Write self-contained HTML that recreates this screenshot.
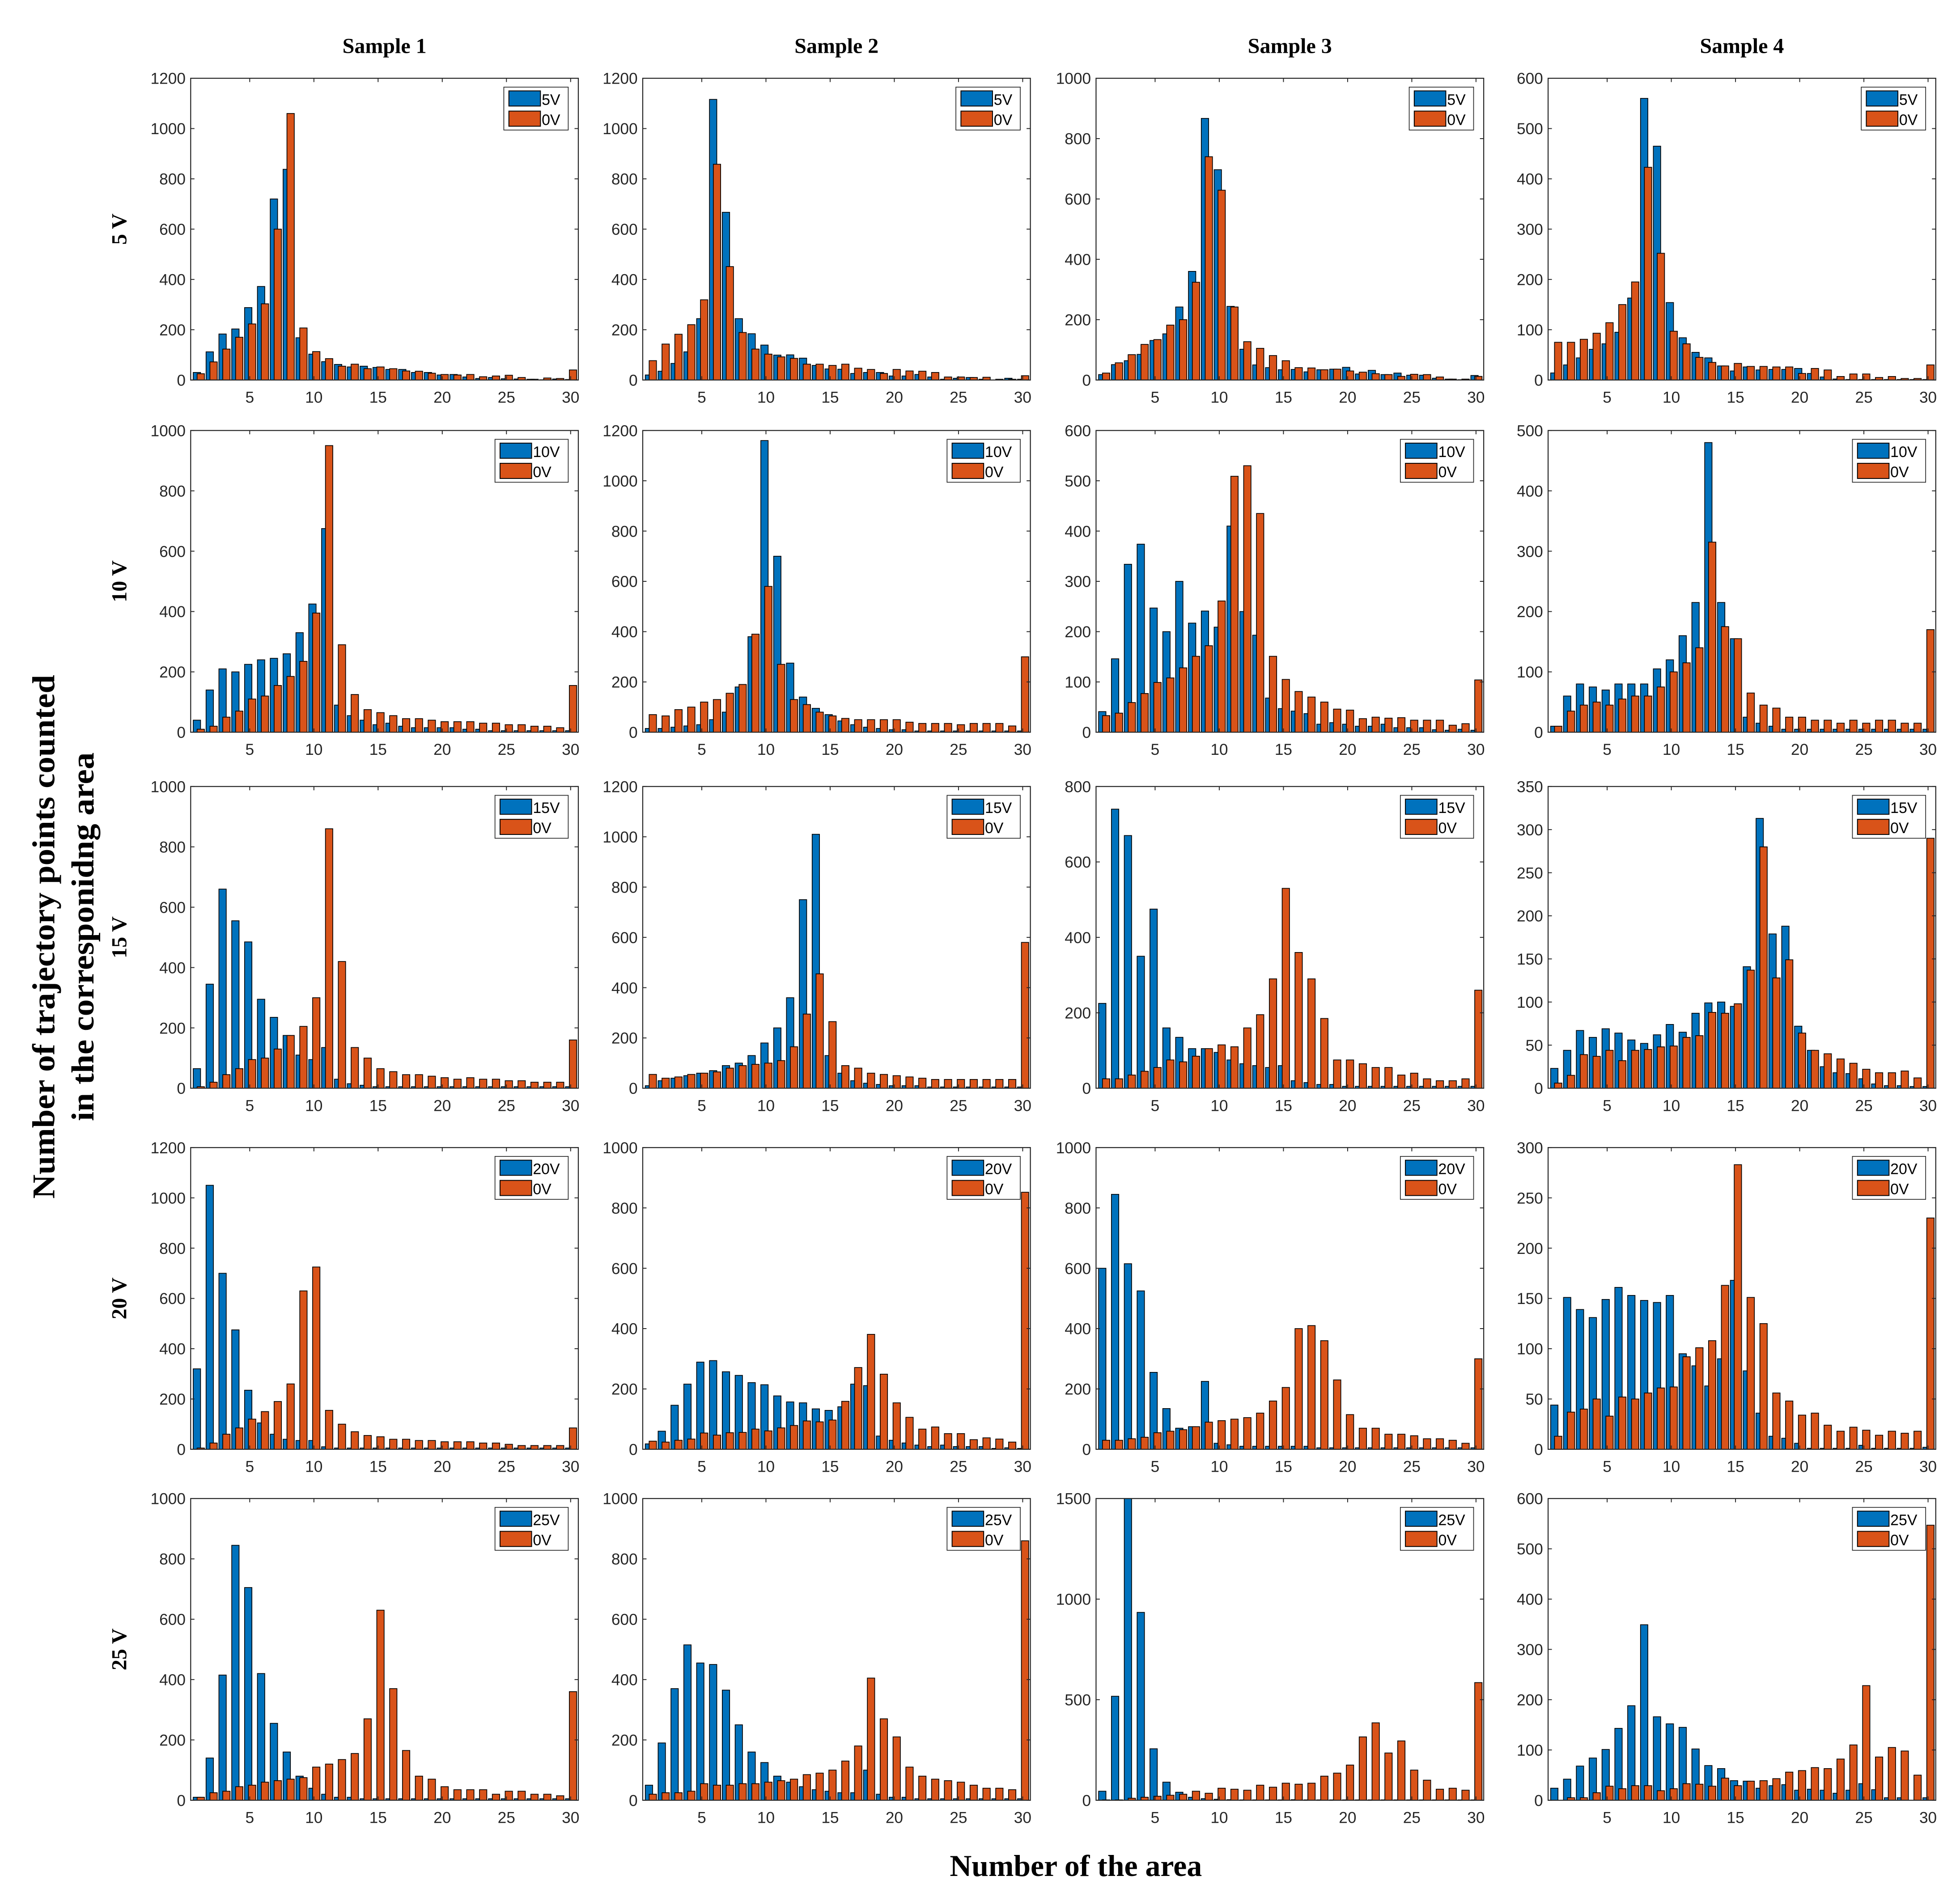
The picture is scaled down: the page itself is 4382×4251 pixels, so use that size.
<!DOCTYPE html>
<html><head><meta charset="utf-8"><style>
html,body{margin:0;padding:0;background:#fff;}
svg{display:block;}
</style></head><body>
<svg id="fig" xmlns="http://www.w3.org/2000/svg" width="4382" height="4251" viewBox="0 0 1552.2 1505.8">
<rect width="1552.2" height="1505.8" fill="#fff"/>
<g id="panels"></g>
<text x="852" y="1486" text-anchor="middle" font-family="Liberation Serif, serif" font-weight="bold" font-size="24">Number of the area</text>
<text transform="translate(43,742) rotate(-90)" text-anchor="middle" font-family="Liberation Serif, serif" font-weight="bold" font-size="25" textLength="415" lengthAdjust="spacingAndGlyphs">Number of trajectory points counted</text>
<text transform="translate(74,742) rotate(-90)" text-anchor="middle" font-family="Liberation Serif, serif" font-weight="bold" font-size="25" textLength="292" lengthAdjust="spacingAndGlyphs">in the corresponidng area</text>
</svg>
<script>
const sampleLabels = ["Sample 1","Sample 2","Sample 3","Sample 4"];
const voltageLabels = ["5 V","10 V","15 V","20 V","25 V"];
const legendLabels = ["5V","10V","15V","20V","25V"];
const yMax = [[1200,1200,1000,600],[1000,1200,600,500],[1000,1200,800,350],[1200,1000,1000,300],[1000,1000,1500,600]];
const yStep = [[200,200,200,100],[200,200,100,100],[200,200,200,50],[200,200,200,50],[200,200,500,100]];
const xTicks = [5,10,15,20,25,30];
const blueData = [
[[30,112,183,203,288,372,720,838,168,103,73,62,52,55,50,42,42,30,30,20,22,12,6,10,5,4,3,1,4,2],
 [20,35,66,112,244,1116,667,244,184,139,99,100,87,58,44,43,26,30,30,16,16,22,12,3,7,10,3,0,7,3],
 [18,51,64,85,131,153,242,360,867,697,244,102,50,41,34,35,27,34,36,42,20,32,18,23,16,16,6,3,1,15],
 [14,30,44,61,72,95,163,560,465,154,84,55,44,28,18,26,20,21,21,23,13,6,2,1,1,1,1,1,1,1]],
[[40,140,210,200,225,240,245,260,330,425,675,90,55,40,25,30,20,15,15,15,15,10,10,5,5,5,5,5,5,5],
 [15,15,20,25,30,50,80,180,380,1160,700,275,140,95,70,45,30,20,15,10,10,5,5,5,5,5,5,5,5,5],
 [41,146,334,374,247,200,300,217,241,209,410,240,193,68,47,42,37,16,19,16,12,12,16,9,9,9,5,4,6,4],
 [10,60,80,75,70,80,80,80,105,120,160,215,480,215,155,25,15,10,5,5,5,5,5,5,5,5,5,5,5,5]],
[[65,345,660,555,485,295,235,175,110,95,135,30,15,10,5,5,5,5,5,5,5,5,5,5,5,5,5,5,5,5],
 [10,30,40,50,60,70,90,100,130,180,240,360,750,1010,130,60,30,20,15,10,10,10,5,5,5,5,5,5,5,5],
 [225,740,670,350,475,160,135,105,105,95,75,65,60,55,60,20,15,10,10,5,5,5,5,5,5,5,5,5,5,5],
 [23,44,67,59,69,64,56,52,62,74,65,87,99,100,95,141,313,179,188,72,44,25,18,17,11,5,3,3,2,2]],
[[320,1050,700,475,235,105,60,40,35,35,10,5,5,5,5,5,5,5,5,5,5,5,5,5,5,5,5,5,5,5],
 [18,60,146,216,289,294,257,245,221,214,177,157,154,134,129,141,216,211,44,30,21,14,9,14,9,9,9,3,5,3],
 [600,845,615,525,255,135,70,75,225,20,15,10,10,10,10,10,10,5,5,5,5,5,5,5,5,5,5,5,5,5],
 [44,151,139,131,149,161,153,148,146,153,95,83,63,90,168,78,36,13,11,6,1,1,1,1,4,1,1,1,1,2]],
[[10,140,415,845,705,420,255,160,80,40,20,10,10,5,5,5,5,5,5,5,5,5,5,5,5,5,5,5,5,5],
 [50,190,370,515,455,450,365,250,160,125,80,60,45,35,30,25,25,100,20,10,10,5,5,5,5,5,5,5,5,5],
 [45,517,1600,934,256,90,40,15,8,5,3,2,2,2,2,3,2,2,2,2,2,2,2,2,2,2,2,2,2,2],
 [24,42,68,84,101,143,188,349,166,152,145,102,69,63,39,38,24,29,31,20,22,20,14,20,33,21,5,5,0,5]]
];
const orangeData = [
[[25,72,123,170,223,303,600,1060,207,113,85,55,63,45,52,45,36,35,27,22,20,22,13,16,19,10,3,8,6,40],
 [77,143,182,220,319,858,451,189,123,103,92,86,63,63,58,63,47,42,26,42,36,35,30,12,12,10,11,3,3,17],
 [23,57,84,118,134,182,200,324,740,629,242,127,105,81,64,41,40,34,36,30,26,21,18,12,19,18,10,3,3,12],
 [75,75,81,93,114,150,195,423,252,97,72,45,35,28,33,27,27,26,26,13,23,20,7,12,12,5,7,3,3,30]],
[[10,20,50,70,110,120,155,185,235,395,950,290,125,75,65,55,45,45,40,35,35,35,30,30,25,25,20,20,15,155],
 [70,65,90,100,120,130,155,190,390,580,270,130,110,80,65,55,50,50,50,50,40,35,35,35,30,35,35,35,25,300],
 [33,38,59,77,99,108,128,151,172,261,509,530,435,151,105,81,70,60,46,44,27,30,28,29,24,24,24,14,17,104],
 [10,35,45,50,45,55,60,60,75,100,115,140,315,175,155,65,45,40,25,25,20,20,15,20,15,20,20,15,15,170]],
[[5,20,45,65,95,100,130,175,205,300,860,420,135,100,65,55,45,45,40,35,30,35,30,30,25,25,20,20,20,160],
 [55,40,45,55,60,65,80,90,95,100,110,165,295,455,265,90,80,60,55,50,45,40,35,35,35,35,35,35,35,580],
 [25,25,35,45,55,75,70,85,105,115,110,160,195,290,530,360,290,185,75,75,65,55,55,35,40,25,20,20,25,260],
 [6,15,39,37,44,32,44,45,48,49,59,61,88,87,98,137,280,128,149,64,44,40,34,29,22,18,18,20,12,290]],
[[5,25,60,85,120,150,190,260,630,725,155,100,70,55,50,40,40,35,35,30,30,30,25,25,20,15,15,15,15,85],
 [27,24,30,34,54,47,55,56,67,61,71,79,94,91,97,159,271,381,249,154,106,67,74,52,52,32,38,34,24,852],
 [30,30,35,40,55,60,65,75,90,95,100,105,120,160,205,400,410,360,230,115,70,70,50,50,45,35,35,30,20,300],
 [13,37,40,50,33,52,50,56,61,62,92,101,108,163,283,151,125,56,48,34,36,24,18,22,19,14,18,16,18,230]],
[[10,25,30,45,50,60,65,70,75,110,120,135,155,270,630,370,165,80,70,45,35,35,35,20,30,30,20,20,15,360],
 [20,25,25,30,55,50,50,55,55,60,65,70,85,90,100,130,180,405,270,210,110,80,70,65,60,50,40,40,35,860],
 [2,2,10,15,20,25,30,45,35,60,55,50,75,65,85,80,85,120,135,175,315,385,235,295,150,100,55,60,50,585],
 [0,5,5,15,28,23,29,29,19,23,33,32,28,44,29,38,39,43,56,59,65,63,82,110,228,86,105,98,50,547]]
];
const colLeft = [151,509,868,1226];
const rowTop = [62,341,623,909,1187];
const W = 307, H = 239;
const XMIN = 0.4, XMAX = 30.6;
const NS = "http://www.w3.org/2000/svg";
const root = document.getElementById('panels');
function mk(tag, attrs, parent){
  const e = document.createElementNS(NS, tag);
  for (const k in attrs) e.setAttribute(k, attrs[k]);
  parent.appendChild(e);
  return e;
}
const tickFont = "Liberation Sans, Arial, sans-serif";
for (let c=0;c<4;c++){
  const t = mk('text',{x:colLeft[c]+W/2, y:42, 'text-anchor':'middle','font-family':'Liberation Serif, serif','font-weight':'bold','font-size':17},root);
  
  
  t.textContent = sampleLabels[c];
}
for (let r=0;r<5;r++){
  const cy = rowTop[r]+H/2;
  const t = mk('text',{transform:'translate(100,'+cy+') rotate(-90)','text-anchor':'middle','font-family':'Liberation Serif, serif','font-weight':'bold','font-size':17},root);
  
  
  t.textContent = voltageLabels[r];
}
for (let r=0;r<5;r++){
  for (let c=0;c<4;c++){
    const L = colLeft[c], T = rowTop[r], ym = yMax[r][c];
    const g = mk('g',{},root);
    
    
    const xs = v => L + (v-XMIN)/(XMAX-XMIN)*W;
    const ys = v => T + H - Math.min(v,ym)/ym*H;
    const clipId = 'clip'+r+'_'+c;
    const cp = mk('clipPath',{id:clipId},g);
    mk('rect',{x:L,y:T,width:W,height:H},cp);
    const bars = mk('g',{'clip-path':'url(#'+clipId+')'},g);
    const bw = 0.57;
    for (let i=0;i<30;i++){
      const x = i+1;
      const vb = blueData[r][c][i], vo = orangeData[r][c][i];
      const b = mk('rect',{x:xs(x-0.4), y:ys(vb), width:xs(x-0.4+bw)-xs(x-0.4), height:T+H-ys(vb), fill:'#0072BD', stroke:'#000','stroke-width':0.6},bars);
      
      
      const o = mk('rect',{x:xs(x-0.1), y:ys(vo), width:xs(x-0.1+bw)-xs(x-0.1), height:T+H-ys(vo), fill:'#D95319', stroke:'#000','stroke-width':0.6},bars);
      
      
    }
    const fr = mk('rect',{x:L,y:T,width:W,height:H,fill:'none',stroke:'#262626','stroke-width':0.8},g);
    
    
    for (const tv of xTicks){
      const x = xs(tv);
      mk('line',{x1:x,y1:T+H,x2:x,y2:T+H-3,stroke:'#262626','stroke-width':0.7},g);
      mk('line',{x1:x,y1:T,x2:x,y2:T+3,stroke:'#262626','stroke-width':0.7},g);
      const tl = mk('text',{x:x,y:T+H+18,'text-anchor':'middle','font-family':tickFont,'font-size':12.5,fill:'#262626'},g);
      
      
      tl.textContent = tv;
    }
    const st = yStep[r][c];
    for (let v=0; v<=ym+1e-6; v+=st){
      const y = ys(v);
      mk('line',{x1:L,y1:y,x2:L+3,y2:y,stroke:'#262626','stroke-width':0.7},g);
      mk('line',{x1:L+W,y1:y,x2:L+W-3,y2:y,stroke:'#262626','stroke-width':0.7},g);
      const tl = mk('text',{x:L-4,y:y+4.5,'text-anchor':'end','font-family':tickFont,'font-size':12.5,fill:'#262626'},g);
      
      
      tl.textContent = v;
    }
    const lab = legendLabels[r];
    const lw = lab.length>2 ? 58 : 51;
    const lx = L+W-8-lw, ly = T+7;
    const lg = mk('g',{},g);
    
    
    mk('rect',{x:lx,y:ly,width:lw,height:34,fill:'#fff',stroke:'#262626','stroke-width':0.6},lg);
    mk('rect',{x:lx+4,y:ly+3,width:25,height:12,fill:'#0072BD',stroke:'#000','stroke-width':0.7},lg);
    mk('rect',{x:lx+4,y:ly+19,width:25,height:12,fill:'#D95319',stroke:'#000','stroke-width':0.7},lg);
    const t1 = mk('text',{x:lx+30,y:ly+14,'font-family':tickFont,'font-size':12,fill:'#000'},lg);
    
    
    t1.textContent = lab;
    const t2 = mk('text',{x:lx+30,y:ly+30,'font-family':tickFont,'font-size':12,fill:'#000'},lg);
    
    
    t2.textContent = '0V';
  }
}
</script>
</body></html>
